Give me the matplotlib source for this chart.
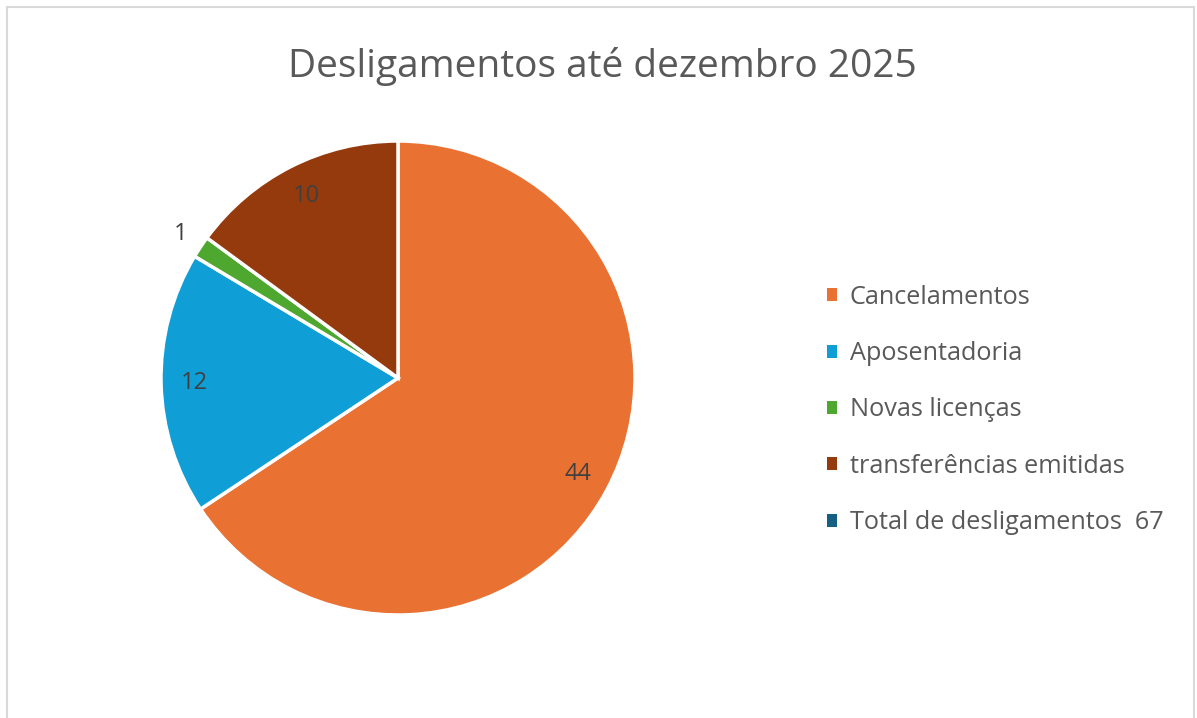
import matplotlib
matplotlib.use("Agg")
import numpy as np
import matplotlib.pyplot as plt
from matplotlib.patches import Patch, Rectangle

categories = ["Cancelamentos", "Aposentadoria", "Novas licenças", "transferências emitidas"]
values = [44, 12, 1, 10]
colors = ["#E97132", "#0F9ED5", "#4EA72E", "#953A0D"]
total_label = "Total de desligamentos  67"
total_color = "#156082"
title = "Desligamentos até dezembro 2025"

plt.rcParams["font.family"] = ["Open Sans", "DejaVu Sans"]
text_color = "#595959"

fig = plt.figure(figsize=(11.97, 7.18), dpi=100)

# light chart-area border
fig.patches.append(Rectangle((7 / 1197, -0.01), 1187 / 1197, 1 - 7 / 718 + 0.01,
                             transform=fig.transFigure, fill=False,
                             edgecolor="#d9d9d9", linewidth=1.5))

cx, cy, r = 398 / 1197, 1 - 378 / 718, 237
ax = fig.add_axes([cx - r / 1197, cy - r / 718, 2 * r / 1197, 2 * r / 718])
wedges, _ = ax.pie(values, colors=colors, startangle=90, counterclock=False,
                   radius=1.0, wedgeprops=dict(edgecolor="white", linewidth=2.5))
ax.set_xlim(-1, 1)
ax.set_ylim(-1, 1)
ax.set_aspect("equal")
ax.axis("off")

# data labels: inside the slice, small slice labelled outside
for w, v in zip(wedges, values):
    mid = np.deg2rad((w.theta1 + w.theta2) / 2)
    dist = 1.1 if v / sum(values) < 0.05 else 0.86
    ax.text(dist * np.cos(mid), dist * np.sin(mid), str(v), ha="center", va="center",
            fontsize=17, color="#404040")

fig.suptitle(title, x=0.503, y=0.935, fontsize=28, color=text_color)

handles = [Patch(facecolor=w.get_facecolor()) for w in wedges] + [Patch(facecolor=total_color)]
labels = categories + [total_label]
fig.legend(handles, labels, loc="center left", bbox_to_anchor=(0.672, 1 - 410 / 718),
           frameon=False, fontsize=18.2, labelcolor=text_color, handlelength=0.4,
           handleheight=0.4, handletextpad=0.5, labelspacing=1.24)

fig.savefig("out.png", dpi=100, facecolor="white")
